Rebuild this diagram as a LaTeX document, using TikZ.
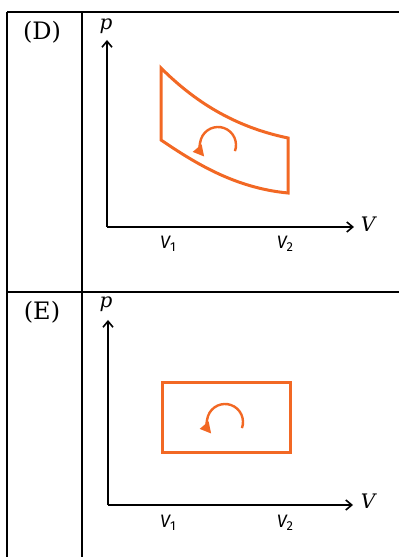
\documentclass[tikz,border=0pt]{standalone}
\usepackage{fontspec}
\newfontfamily\labserif{DejaVu Serif}
\newfontfamily\labital{DejaVu Serif Italic}
\newfontfamily\labsans{Fira Sans}
\usetikzlibrary{arrows.meta}
\definecolor{cyc}{RGB}{242,104,36}
\newcommand{\vlab}[1]{{\itshape V}\raisebox{-2.5pt}{\fontsize{13}{15}\selectfont #1}}
\begin{document}
\begin{tikzpicture}[x=1pt,y=1pt,
  grid/.style={line width=2pt,black},
  axis/.style={line width=1.6pt,black,-{Straight Barb[length=6pt,width=10pt,line width=1.6pt]}},
  cycle/.style={line width=3pt,cyc,line join=miter},
  turn/.style={line width=2.4pt,cyc,-{Triangle[length=11pt,width=11pt]}},
  lab/.style={inner sep=0pt,font=\labserif\fontsize{24}{27}\selectfont},
  axl/.style={inner sep=0pt,font=\labital\fontsize{20}{22}\selectfont},
  tick/.style={inner sep=0pt,font=\labsans\fontsize{18}{20}\selectfont}]
\useasboundingbox (0,0) rectangle (399,557);
% table
\coordinate (tl) at (7,545); \coordinate (tr) at (399,545);
\coordinate (ml) at (7,265); \coordinate (mr) at (399,265);
\coordinate (bl) at (7,0); \coordinate (dt) at (82,545); \coordinate (db) at (82,0);
\draw[grid] (tl) -- (tr);
\draw[grid] (ml) -- (mr);
\draw[grid] (tl) -- (bl);
\draw[grid] (dt) -- (db);
% panel D
\node[lab] (labD) at (42,525) {(D)};
\coordinate (oD) at (107,330);
\coordinate (yD) at (107,517);
\coordinate (xD) at (354,330);
\draw[axis] (oD) -- (yD);
\draw[axis] (oD) -- (xD);
\node[axl] (pD) at (106,531) {p};
\node[axl] (VD) at (368,333) {V};
\node[tick] (V1D) at (168,313) {\vlab{1}};
\node[tick] (V2D) at (285,313) {\vlab{2}};
\coordinate (aD) at (161,489);
\coordinate (bD) at (161,417);
\coordinate (cD) at (288,364);
\coordinate (dD) at (288,419);
\draw[cycle] (aD) .. controls (195,455) and (235,430) .. (dD) -- (cD)
  .. controls (235,369) and (195,394) .. (bD) -- cycle;
\coordinate (cenD) at (218,412);
\draw[turn] ([shift={(-20:18)}]cenD) arc[start angle=-20,end angle=220,radius=18];
% panel E
\node[lab] (labE) at (42,245) {(E)};
\coordinate (oE) at (108,52);
\coordinate (yE) at (108,237);
\coordinate (xE) at (353,52);
\draw[axis] (oE) -- (yE);
\draw[axis] (oE) -- (xE);
\node[axl] (pE) at (106,253) {p};
\node[axl] (VE) at (368,56) {V};
\node[tick] (V1E) at (168,34) {\vlab{1}};
\node[tick] (V2E) at (285,34) {\vlab{2}};
\coordinate (aE) at (162,174);
\coordinate (cE) at (290,104);
\draw[cycle] (aE) rectangle (cE);
\coordinate (cenE) at (225,135);
\draw[turn] ([shift={(-20:18)}]cenE) arc[start angle=-20,end angle=220,radius=18];
\end{tikzpicture}
\end{document}
